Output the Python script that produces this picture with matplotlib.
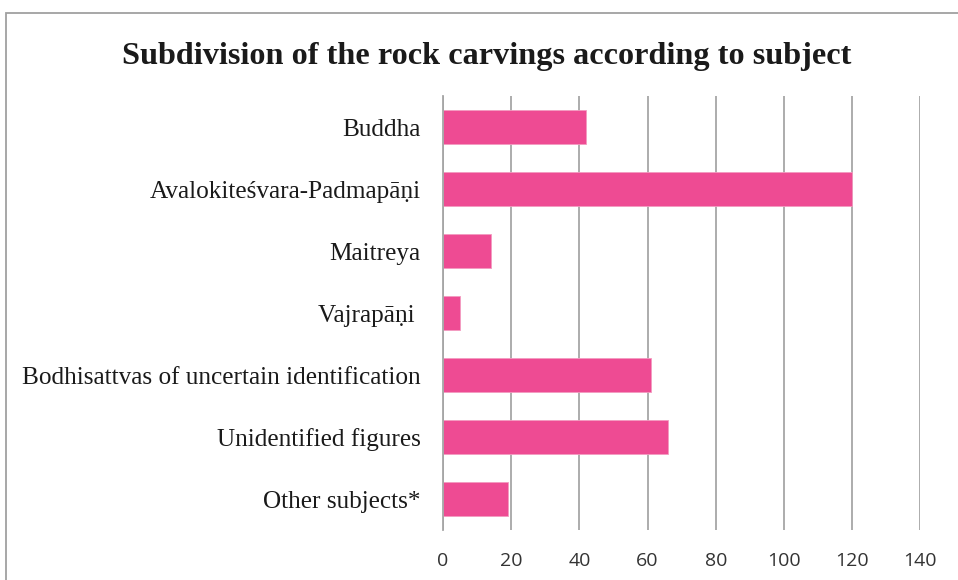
import matplotlib
matplotlib.use('Agg')
import matplotlib.pyplot as plt
from matplotlib.patches import Rectangle

# chart data
subjects = ['Buddha', 'Avalokiteśvara-Padmapāṇi', 'Maitreya', 'Vajrapāṇi ',
            'Bodhisattvas of uncertain identification', 'Unidentified figures',
            'Other subjects*']
counts = [42, 120, 14, 5, 61, 66, 19]
x_ticks = [0, 20, 40, 60, 80, 100, 120, 140]

bar_color = '#EE4B93'
grid_color = '#A6A6A6'

fig = plt.figure(figsize=(9.58, 5.8), dpi=100)
ax = fig.add_axes([443 / 958, 1 - 530 / 580, 477.3 / 958, 434 / 580])

ypos = list(range(len(subjects)))
ax.barh(ypos, counts, height=0.556, color=bar_color,
        edgecolor='#F39BC0', linewidth=0.6, zorder=3)

ax.set_ylim(len(subjects) - 0.5, -0.5)
ax.set_xlim(0, 140)
ax.set_xticks(x_ticks)
ax.set_xticklabels([str(t) for t in x_ticks], family='Open Sans',
                   fontsize=14, color='#333333')
ax.set_yticks(ypos)
ax.set_yticklabels(subjects, family='Liberation Serif', fontsize=18.2,
                   color='#1a1a1a')
ax.tick_params(axis='both', length=0)
ax.tick_params(axis='y', pad=16)
ax.tick_params(axis='x', pad=16)

ax.xaxis.grid(True, color=grid_color, linewidth=1.3, zorder=0)
ax.set_axisbelow(True)
for side in ['top', 'right', 'bottom']:
    ax.spines[side].set_visible(False)
ax.spines['left'].set_color(grid_color)
ax.spines['left'].set_linewidth(1.3)
ax.spines['left'].set_zorder(4)

fig.text(486.5 / 958, 1 - 64 / 580,
         'Subdivision of the rock carvings according to subject',
         ha='center', va='baseline', family='Liberation Serif',
         fontweight='bold', fontsize=23.2, color='#1a1a1a')

# chart area frame (cropped at the right and bottom)
fig.patches.append(Rectangle((6 / 958, -0.1), 1.2, 1 - 13 / 580 + 0.1,
                             transform=fig.transFigure, fill=False,
                             edgecolor='#A0A0A0', linewidth=1.3))

fig.savefig('out.png', dpi=100)
